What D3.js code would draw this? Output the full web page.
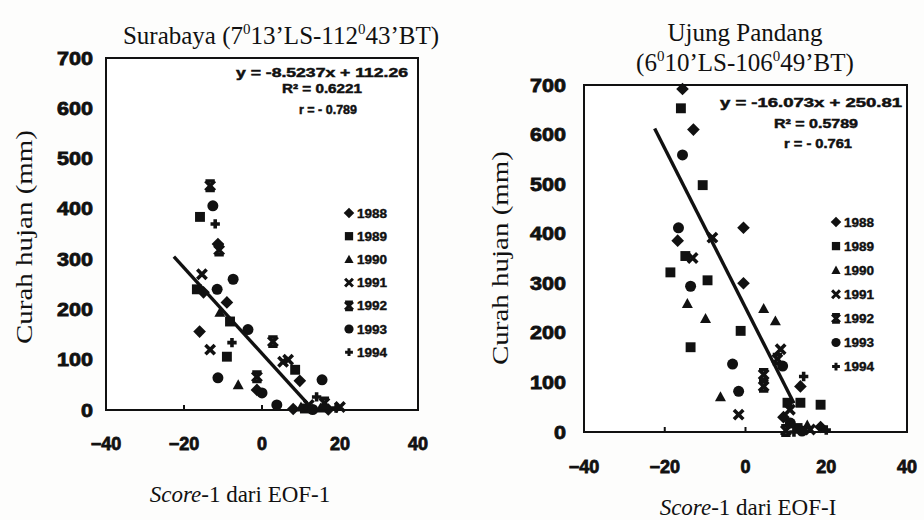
<!DOCTYPE html>
<html>
<head>
<meta charset="utf-8">
<script src="https://cdn.jsdelivr.net/npm/d3@7"></script>
<style>
  body { margin: 0; background: #fff; }
  svg { display: block; }
</style>
</head>
<body>
<svg id="chart" width="924" height="520"></svg>
<script>
// ---- data ----
const years = ["1988", "1989", "1990", "1991", "1992", "1993", "1994"];
const markerTypes = ["diamond", "square", "triangle", "x", "star", "circle", "plus"];
const xTicks = [-40, -20, 0, 20, 40];
const yTicks = [0, 100, 200, 300, 400, 500, 600, 700];

// Surabaya: [score-1, rainfall mm]
const surabaya1988 = [[-11.3, 330], [-15, 234], [-9, 214], [-16, 156], [-1.3, 40], [9.7, 58], [8, 2], [17, 1]];
const surabaya1989 = [[-15.9, 384], [-16.7, 240], [-8.2, 176], [-9, 106], [8.5, 80], [11, 3]];
const surabaya1990 = [[-10.8, 194], [-6.1, 50], [10, 6], [15, 4]];
const surabaya1991 = [[-15.4, 270], [-13.3, 120], [5.4, 96], [6.7, 100], [12, 10], [20, 6]];
const surabaya1992 = [[-13.3, 446], [-11, 318], [2.8, 136], [-1.3, 66], [16, 14]];
const surabaya1993 = [[-12.6, 406], [-7.4, 260], [-11.5, 240], [-3.6, 160], [-11.3, 64], [0, 34], [3.8, 10], [15.4, 60], [13, 1]];
const surabaya1994 = [[-12, 370], [-7.7, 134], [14, 26], [19, 4]];

// Ujung Pandang
const ujung1988 = [[-15.6, 692], [-12.9, 610], [-0.5, 412], [-16.8, 386], [-0.5, 300], [13.6, 92], [9.4, 30], [18.6, 10]];
const ujung1989 = [[-16, 653], [-10.6, 498], [-14.9, 355], [-18.6, 322], [-9.4, 306], [-1.2, 204], [-13.6, 171], [10.4, 59], [13.6, 59], [18.6, 55], [12.9, 8]];
const ujung1990 = [[-14.4, 259], [-9.9, 229], [4.5, 249], [7.4, 224], [-6.2, 71], [15.3, 14]];
const ujung1991 = [[-8.2, 392], [-13.1, 351], [8.7, 167], [-1.7, 35], [11, 45], [16, 5]];
const ujung1992 = [[7.9, 147], [4.5, 116], [4.5, 92], [10, 3]];
const ujung1993 = [[-15.6, 559], [-16.6, 412], [-13.6, 294], [9.2, 133], [-3.2, 137], [-1.7, 82], [11.1, 18], [14, 2]];
const ujung1994 = [[14.4, 112], [12, 0], [20, 4]];

const surabayaFit = { slope: -8.5237, intercept: 112.26, from: -22.6, to: 11.5 };
const ujungFit = { slope: -16.073, intercept: 250.81, from: -22.5, to: 12 };

const surabayaStats = ["y = -8.5237x + 112.26", "R\u00b2 = 0.6221", "r = - 0.789"];
const ujungStats = ["y = -16.073x + 250.81", "R\u00b2 = 0.5789", "r = - 0.761"];

const svg = d3.select("#chart");
svg.append("rect").attr("width", 924).attr("height", 520).attr("fill", "#fdfdfc");

const serif = "'Liberation Serif', 'Times New Roman', serif";
const sans = "'Liberation Sans', Arial, sans-serif";

function drawMarker(g, type, cx, cy, s) {
  let d, filled = true;
  if (type === "diamond") d = `M0,${-s * 1.15}L${s * 1.15},0L0,${s * 1.15}L${-s * 1.15},0Z`;
  if (type === "square") d = `M${-s * 0.9},${-s * 0.9}H${s * 0.9}V${s * 0.9}H${-s * 0.9}Z`;
  if (type === "triangle") d = `M0,${-s}L${s},${s * 0.8}L${-s},${s * 0.8}Z`;
  if (type === "circle") d = d3.symbol().type(d3.symbolCircle).size(Math.PI * s * s)();
  const h = s * 0.85;
  if (type === "x") { d = `M${-h},${-h}L${h},${h}M${h},${-h}L${-h},${h}`; filled = false; }
  if (type === "star") { d = `M${-h},${-h}L${h},${h}M${h},${-h}L${-h},${h}M${-h},${-h}L${h},${-h}M${-h},${h}L${h},${h}`; filled = false; }
  if (type === "plus") { d = `M${-h},0L${h},0M0,${-h}L0,${h}`; filled = false; }
  const path = g.append("path")
    .attr("d", d)
    .attr("transform", "translate(" + cx + "," + cy + ")");
  if (filled) path.attr("fill", "#111");
  else path.attr("fill", "none").attr("stroke", "#111").attr("stroke-width", s * 0.65);
}

function drawPanel(p) {
  const x = d3.scaleLinear().domain([-40, 40]).range([p.x0, p.x1]);
  const y = d3.scaleLinear().domain([0, 700]).range([p.y1, p.y0]);
  const g = svg.append("g");

  // title, superscript parts are arrays
  p.title.forEach((line, i) => {
    const t = g.append("text")
      .attr("x", p.titleX).attr("y", p.titleY + i * 30)
      .attr("text-anchor", "middle")
      .attr("font-family", serif).attr("font-size", 25).attr("fill", "#111");
    let raised = false;
    line.forEach(part => {
      if (Array.isArray(part)) {
        t.append("tspan").attr("dy", -10).attr("font-size", 15).text(part[0]);
        raised = true;
      } else {
        const ts = t.append("tspan").text(part);
        if (raised) { ts.attr("dy", 10); raised = false; }
      }
    });
  });

  // frame
  g.append("rect")
    .attr("x", p.x0).attr("y", p.y0)
    .attr("width", p.x1 - p.x0).attr("height", p.y1 - p.y0)
    .attr("fill", "#fff").attr("stroke", "#111").attr("stroke-width", 2);

  // small inner ticks on the bottom axis
  g.selectAll(".xt").data(xTicks.slice(1, -1)).enter().append("line")
    .attr("x1", d => x(d)).attr("x2", d => x(d))
    .attr("y1", p.y1).attr("y2", p.y1 - 5)
    .attr("stroke", "#111").attr("stroke-width", 2);

  // tick labels
  g.selectAll(".xl").data(xTicks).enter().append("text")
    .attr("x", d => x(d)).attr("y", p.y1 + p.xLabelGap)
    .attr("text-anchor", "middle")
    .attr("font-family", sans).attr("font-weight", "bold").attr("font-size", 18)
    .attr("fill", "#111").attr("stroke", "#111").attr("stroke-width", 0.8)
    .text(d => d3.format("d")(d));
  g.selectAll(".yl").data(yTicks).enter().append("text")
    .attr("x", p.yLabelX).attr("y", d => y(d) + 6.5)
    .attr("text-anchor", "end")
    .attr("font-family", sans).attr("font-weight", "bold").attr("font-size", 18)
    .attr("fill", "#111").attr("stroke", "#111").attr("stroke-width", 0.8)
    .attr("textLength", d => 12 * String(d).length).attr("lengthAdjust", "spacingAndGlyphs")
    .text(d => d);

  // axis titles
  g.append("text")
    .attr("transform", "translate(" + p.yTitleX + "," + p.yTitleY + ") rotate(-90)")
    .attr("text-anchor", "middle")
    .attr("font-family", serif).attr("font-size", 24).attr("fill", "#111")
    .attr("textLength", 214).attr("lengthAdjust", "spacingAndGlyphs")
    .text("Curah hujan (mm)");
  const xt = g.append("text")
    .attr("x", p.xTitleX).attr("y", p.xTitleY)
    .attr("text-anchor", "middle")
    .attr("font-family", serif).attr("font-size", 23).attr("fill", "#111");
  xt.append("tspan").attr("font-style", "italic").text("Score");
  xt.append("tspan").text(p.xTitleRest);

  // points
  p.series.forEach((pts, i) => {
    pts.forEach(d => drawMarker(g, markerTypes[i], x(d[0]), y(d[1]), 5.5));
  });

  // regression line
  const fit = p.fit;
  g.append("line")
    .attr("x1", x(fit.from)).attr("y1", y(fit.slope * fit.from + fit.intercept))
    .attr("x2", x(fit.to)).attr("y2", y(fit.slope * fit.to + fit.intercept))
    .attr("stroke", "#111").attr("stroke-width", 3.4);

  // equation text
  p.stats.forEach((s, i) => {
    const pos = p.statPos[i];
    g.append("text")
      .attr("x", pos[0]).attr("y", pos[1])
      .attr("text-anchor", pos[2])
      .attr("font-family", sans).attr("font-weight", "bold").attr("font-size", 13)
      .attr("fill", "#111").attr("stroke", "#111").attr("stroke-width", 0.5)
      .attr("textLength", pos[3]).attr("lengthAdjust", "spacingAndGlyphs")
      .text(s);
  });

  // legend
  years.forEach((yr, i) => {
    const ly = p.legendY + i * p.legendStep;
    drawMarker(g, markerTypes[i], p.legendX, ly, 4.6);
    g.append("text")
      .attr("x", p.legendX + 8).attr("y", ly + 4.5)
      .attr("font-family", sans).attr("font-weight", "bold").attr("font-size", 12)
      .attr("fill", "#111").attr("stroke", "#111").attr("stroke-width", 0.4)
      .attr("textLength", 30).attr("lengthAdjust", "spacingAndGlyphs")
      .text(yr);
  });
}

drawPanel({
  x0: 106, x1: 418, y0: 58, y1: 410,
  title: [["Surabaya (7", ["0"], "13\u2019LS-112", ["0"], "43\u2019BT)"]],
  titleX: 281, titleY: 44,
  xLabelGap: 40, yLabelX: 93,
  yTitleX: 32, yTitleY: 237,
  xTitleX: 240, xTitleY: 502, xTitleRest: "-1 dari EOF-1",
  series: [surabaya1988, surabaya1989, surabaya1990, surabaya1991, surabaya1992, surabaya1993, surabaya1994],
  fit: surabayaFit,
  stats: surabayaStats,
  statPos: [[408, 77, "end", 172], [322, 93, "middle", 80], [328, 114, "middle", 58]],
  legendX: 349, legendY: 213, legendStep: 23.2
});

drawPanel({
  x0: 584, x1: 907, y0: 85, y1: 432,
  title: [["Ujung Pandang"], ["(6", ["0"], "10\u2019LS-106", ["0"], "49\u2019BT)"]],
  titleX: 745, titleY: 41,
  xLabelGap: 41, yLabelX: 566,
  yTitleX: 508, yTitleY: 258,
  xTitleX: 748, xTitleY: 515, xTitleRest: "-1 dari EOF-I",
  series: [ujung1988, ujung1989, ujung1990, ujung1991, ujung1992, ujung1993, ujung1994],
  fit: ujungFit,
  stats: ujungStats,
  statPos: [[902, 107, "end", 182], [816, 128, "middle", 84], [818, 148, "middle", 68]],
  legendX: 836, legendY: 222, legendStep: 24.1
});
</script>
</body>
</html>
